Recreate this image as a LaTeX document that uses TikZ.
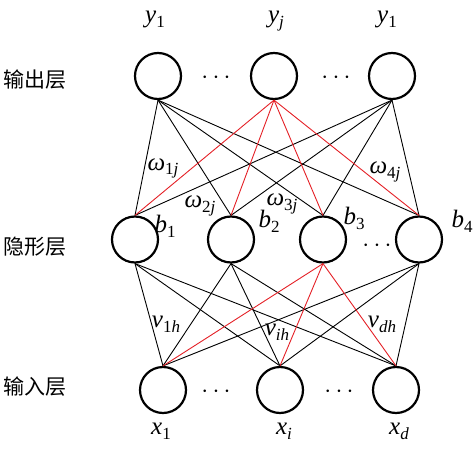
\documentclass[tikz,border=0pt]{standalone}
\usepackage{fontspec}
\setmainfont{Liberation Serif}
\newfontfamily\cjk{Noto Sans CJK SC}
\definecolor{linkred}{RGB}{228,32,38}
\newcommand\lab[2]{\textit{#1}\raisebox{-5pt}{\fontsize{17}{17}\selectfont #2}}
\tikzset{
  neuron/.style={circle, draw, line width=2.2pt, minimum size=46pt, inner sep=0pt},
  txt/.style={font=\fontsize{25}{25}\selectfont, inner sep=0pt, anchor=base},
  layername/.style={font=\cjk\fontsize{21}{21}\selectfont, inner sep=0pt},
  dotsnode/.style={font=\fontsize{26}{26}\selectfont, inner sep=0pt, text height=9pt, text depth=0pt},
  conn/.style={line width=0.9pt, black},
  redconn/.style={line width=0.9pt, color=linkred},
}
\begin{document}
\begin{tikzpicture}[x=1pt,y=-1pt]
\useasboundingbox (0,0) rectangle (473,449);
% neurons
\node[neuron] (o1) at (158,76) {};
\node[neuron] (o2) at (274,76) {};
\node[neuron] (o3) at (392,76) {};
\node[neuron] (h1) at (135,239.5) {};
\node[neuron] (h2) at (231,239.5) {};
\node[neuron] (h3) at (323,239.5) {};
\node[neuron] (h4) at (419,239.5) {};
\node[neuron] (i1) at (163,390) {};
\node[neuron] (i2) at (280,390) {};
\node[neuron] (i3) at (396,390) {};
% connections output-hidden
\foreach \o in {o1,o3}{
  \foreach \h in {h1,h2,h3,h4}{
    \draw[conn] (\o.south) -- (\h.north);
  }
}
\foreach \h in {h1,h2,h3,h4}{
  \draw[redconn] (o2.south) -- (\h.north);
}
% connections hidden-input
\foreach \h in {h1,h2,h4}{
  \foreach \i in {i1,i2,i3}{
    \draw[conn] (\h.south) -- (\i.north);
  }
}
\foreach \i in {i1,i2,i3}{
  \draw[redconn] (h3.south) -- (\i.north);
}
% layer names
\node[layername] (n1) at (35,80) {输出层};
\node[layername] (n2) at (35,247) {隐形层};
\node[layername] (n3) at (35,387) {输入层};
% output labels
\node[txt] (ly1) at (155,23) {\lab{y}{1}};
\node[txt] (lyj) at (276,23) {\lab{y}{\textit{j}}};
\node[txt] (ly3) at (387,23) {\lab{y}{1}};
% dots
\node[dotsnode] (d1) at (216,79) {$\cdots$};
\node[dotsnode] (d2) at (336,79) {$\cdots$};
\node[dotsnode] (d3) at (377,247) {$\cdots$};
\node[dotsnode] (d4) at (216,393) {$\cdots$};
\node[dotsnode] (d5) at (339,393) {$\cdots$};
% bias labels
\node[txt] (lb1) at (165,232) {\lab{b}{1}};
\node[txt] (lb2) at (269,227) {\lab{b}{2}};
\node[txt] (lb3) at (354,224) {\lab{b}{3}};
\node[txt] (lb4) at (462,227) {\lab{b}{4}};
% weights
\node[txt] (w1) at (163,170) {\lab{ω}{1\textit{j}}};
\node[txt] (w2) at (200,207) {\lab{ω}{2\textit{j}}};
\node[txt] (w3) at (282,205) {\lab{ω}{3\textit{j}}};
\node[txt] (w4) at (385,173) {\lab{ω}{4\textit{j}}};
\node[txt] (v1) at (166,327) {\lab{ν}{1\textit{h}}};
\node[txt] (v2) at (277,335) {\lab{ν}{\textit{ih}}};
\node[txt] (v3) at (382,327) {\lab{ν}{\textit{dh}}};
% input labels
\node[txt] (lx1) at (161,434) {\lab{x}{1}};
\node[txt] (lx2) at (284,434) {\lab{x}{\textit{i}}};
\node[txt] (lx3) at (399,434) {\lab{x}{\textit{d}}};
\end{tikzpicture}
\end{document}
